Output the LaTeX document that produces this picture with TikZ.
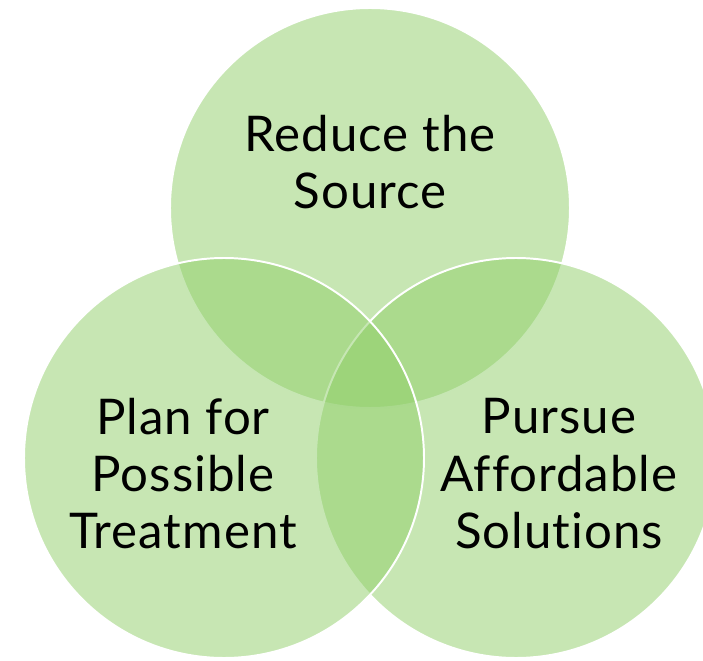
\documentclass[tikz,border=0pt]{standalone}
\usepackage{fontspec}
\setmainfont{Lato}[LetterSpace=2, Ligatures=NoCommon]
\usepackage{tikz}
\usetikzlibrary{positioning}

\definecolor{venngreen}{RGB}{143,206,104}

\begin{document}
\begin{tikzpicture}[
    font=\fontsize{35}{40.7}\selectfont
]

    % Styles for the circles and their texts
    \tikzset{vennset/.style={
        circle,
        minimum size=10cm,
        inner sep=0pt,
        fill=venngreen,
        fill opacity=0.5,
        draw=white,
        draw opacity=1,
        line width=1.4pt
    }}
    \tikzset{venntext/.style={
        align=center,
        text=black,
        inner sep=0pt
    }}

    % Page size
    \useasboundingbox (0,0) rectangle (17.575,16.5);

    % Circles (drawn top, right, left)
    \node[vennset] (C_top)   at (9.25, 11.3) {};
    \node[vennset] (C_right) at (12.9, 5.05) {};
    \node[vennset] (C_left)  at (5.6, 5.05) {};

    % Texts
    \node[venntext] (T_top)   at (9.25, 12.45) {Reduce the\\Source};
    \node[venntext] (T_left)  at (4.575, 4.66) {Plan for\\Possible\\Treatment};
    \node[venntext] (T_right) at (13.975, 4.66) {Pursue\\Affordable\\Solutions};

\end{tikzpicture}
\end{document}
